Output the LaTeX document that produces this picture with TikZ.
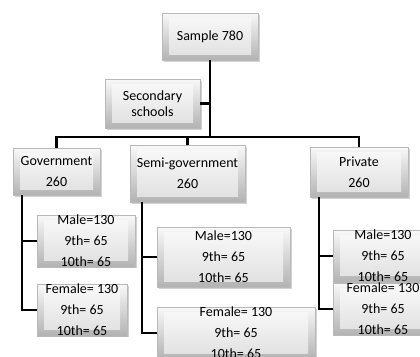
\documentclass[tikz,border=0pt]{standalone}
\usepackage{fontspec}
\setmainfont{Carlito}
\usetikzlibrary{shadows}

\tikzset{
  bevel/.style={draw=gray!55, line width=0.5pt, inner sep=0pt, align=center,
    text=black, font=\fontsize{14}{21}\selectfont,
    top color=gray!5, bottom color=gray!60,
    drop shadow={shadow xshift=1.5pt, shadow yshift=-1.5pt, fill=gray!70, opacity=0.5},
    path picture={
      \shade[top color=gray!4, bottom color=gray!25]
        ([shift={(7pt,-5pt)}]path picture bounding box.north west) rectangle
        ([shift={(-7pt,6pt)}]path picture bounding box.south east);
    }},
  link/.style={line width=2.2pt, black}
}

\begin{document}
\begin{tikzpicture}[x=1pt, y=-1pt]

  % Frame of the picture
  \useasboundingbox (0,0) rectangle (420,356);

  % Top level
  \node[bevel, minimum width=96pt, minimum height=47pt] (sample) at (210,36.5) {Sample 780};
  \node[bevel, minimum width=95pt, minimum height=49pt, font=\fontsize{14}{16}\selectfont]
    (second) at (152.5,103.5) {Secondary\\schools};

  % School types
  \node[bevel, minimum width=87pt, minimum height=47pt] (gov) at (56.5,171.5) {Government\\260};
  \node[bevel, minimum width=115pt, minimum height=57pt] (semi) at (187.5,173.5) {Semi-government\\260};
  \node[bevel, minimum width=98pt, minimum height=50pt] (priv) at (359,172) {Private\\260};

  % Government groups
  \node[bevel, minimum width=98pt, minimum height=48pt] (govM) at (86,241) {Male=130\\9th= 65\\10th= 65};
  \node[bevel, minimum width=90pt, minimum height=50pt] (govF) at (82,310) {Female= 130\\9th= 65\\10th= 65};

  % Semi-government groups
  \node[bevel, minimum width=133pt, minimum height=60pt] (semiM) at (223.5,257) {Male=130\\9th= 65\\10th= 65};
  \node[bevel, minimum width=158pt, minimum height=52pt] (semiF) at (236,333) {Female= 130\\9th= 65\\10th= 65};

  % Private groups
  \node[bevel, minimum width=100pt, minimum height=48pt] (privM) at (383,256) {Male=130\\9th= 65\\10th= 65};
  \node[bevel, minimum width=100pt, minimum height=48pt] (privF) at (383,309) {Female= 130\\9th= 65\\10th= 65};

  % Joints
  \coordinate (bus) at (210,137);
  \coordinate (govspine) at (22,195);
  \coordinate (semispine) at (142,202);
  \coordinate (privspine) at (319,197);

  % Trunk and bus
  \draw[link] (sample.south) -- (bus);
  \draw[link] (second.east) -- (second.east -| bus);
  \draw[link] (gov.north) |- (bus) -| (priv.north);
  \draw[link] (semi.north) -- (semi.north |- bus);

  % Branches to the groups
  \draw[link] (govspine) |- (govM.west);
  \draw[link] (govspine) |- (govF.west);
  \draw[link] (semispine) |- (semiM.west);
  \draw[link] (semispine) |- (semiF.west);
  \draw[link] (privspine) |- (privM.west);
  \draw[link] (privspine) |- (privF.west);

\end{tikzpicture}
\end{document}
